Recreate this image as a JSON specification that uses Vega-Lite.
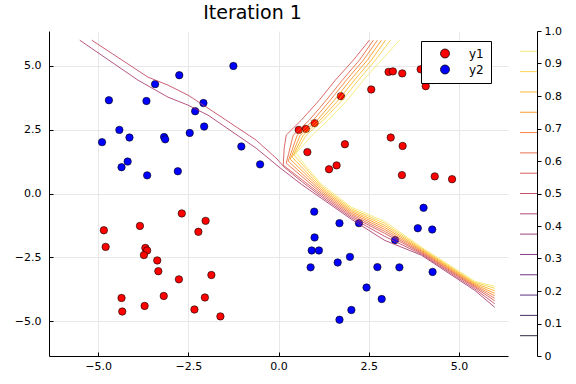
{
  "$schema": "https://vega.github.io/schema/vega-lite/v6.json",
  "padding": {"left": 14, "top": 4, "right": 5, "bottom": 5},
  "config": {
    "font": "DejaVu Sans",
    "view": {"stroke": null},
    "concat": {"spacing": 11},
    "axis": {
      "domainColor": "black", "domainWidth": 1,
      "tickColor": "black", "tickWidth": 1,
      "labelColor": "black", "labelFontSize": 11,
      "gridColor": "#e8e8e8", "gridWidth": 1,
      "titleColor": "black"
    }
  },
  "datasets": {
    "pts": [
      {"s": "y2", "x": -1.25, "y": 4.99}, {"s": "y2", "x": -2.75, "y": 4.63}, {"s": "y2", "x": -3.42, "y": 4.28},
      {"s": "y2", "x": -4.70, "y": 3.65}, {"s": "y2", "x": -3.66, "y": 3.62}, {"s": "y2", "x": -2.08, "y": 3.54},
      {"s": "y2", "x": -2.31, "y": 3.22}, {"s": "y2", "x": -4.41, "y": 2.49}, {"s": "y2", "x": -2.06, "y": 2.62},
      {"s": "y2", "x": -4.89, "y": 2.01}, {"s": "y2", "x": -4.13, "y": 2.19}, {"s": "y2", "x": -3.17, "y": 2.21},
      {"s": "y2", "x": -3.14, "y": 2.12}, {"s": "y2", "x": -2.46, "y": 2.37}, {"s": "y2", "x": -1.03, "y": 1.84},
      {"s": "y2", "x": -4.18, "y": 1.25}, {"s": "y2", "x": -4.35, "y": 1.03}, {"s": "y2", "x": -3.64, "y": 0.71},
      {"s": "y2", "x": -2.79, "y": 0.87}, {"s": "y2", "x": -0.51, "y": 1.14},
      {"s": "y2", "x": 0.99, "y": -0.71}, {"s": "y2", "x": 1.69, "y": -1.16}, {"s": "y2", "x": 2.23, "y": -1.16},
      {"s": "y2", "x": 4.02, "y": -0.56}, {"s": "y2", "x": 3.86, "y": -1.36}, {"s": "y2", "x": 4.26, "y": -1.41},
      {"s": "y2", "x": 1.00, "y": -1.72}, {"s": "y2", "x": 3.23, "y": -1.82}, {"s": "y2", "x": 0.92, "y": -2.23},
      {"s": "y2", "x": 1.12, "y": -2.23}, {"s": "y2", "x": 1.98, "y": -2.48}, {"s": "y2", "x": 1.64, "y": -2.70},
      {"s": "y2", "x": 0.89, "y": -2.89}, {"s": "y2", "x": 2.74, "y": -2.88}, {"s": "y2", "x": 3.35, "y": -2.89},
      {"s": "y2", "x": 4.27, "y": -3.07}, {"s": "y2", "x": 2.44, "y": -3.68}, {"s": "y2", "x": 2.86, "y": -4.13},
      {"s": "y2", "x": 2.02, "y": -4.56}, {"s": "y2", "x": 1.69, "y": -4.94},
      {"s": "y1", "x": -2.68, "y": -0.78}, {"s": "y1", "x": -2.02, "y": -1.07}, {"s": "y1", "x": -4.84, "y": -1.44},
      {"s": "y1", "x": -3.84, "y": -1.27}, {"s": "y1", "x": -2.22, "y": -1.50}, {"s": "y1", "x": -4.79, "y": -2.09},
      {"s": "y1", "x": -3.69, "y": -2.13}, {"s": "y1", "x": -3.64, "y": -2.23}, {"s": "y1", "x": -3.73, "y": -2.41},
      {"s": "y1", "x": -3.36, "y": -2.62}, {"s": "y1", "x": -3.33, "y": -3.04}, {"s": "y1", "x": -2.76, "y": -3.36},
      {"s": "y1", "x": -1.86, "y": -3.19}, {"s": "y1", "x": -4.35, "y": -4.09}, {"s": "y1", "x": -3.18, "y": -4.01},
      {"s": "y1", "x": -2.04, "y": -4.07}, {"s": "y1", "x": -3.71, "y": -4.40}, {"s": "y1", "x": -4.33, "y": -4.62},
      {"s": "y1", "x": -2.33, "y": -4.54}, {"s": "y1", "x": -1.61, "y": -4.81},
      {"s": "y1", "x": 3.05, "y": 4.76}, {"s": "y1", "x": 3.17, "y": 4.78}, {"s": "y1", "x": 3.43, "y": 4.70},
      {"s": "y1", "x": 3.94, "y": 4.86}, {"s": "y1", "x": 4.30, "y": 4.44}, {"s": "y1", "x": 4.08, "y": 4.20},
      {"s": "y1", "x": 2.57, "y": 4.07}, {"s": "y1", "x": 1.73, "y": 3.81}, {"s": "y1", "x": 1.00, "y": 2.75},
      {"s": "y1", "x": 0.76, "y": 2.53}, {"s": "y1", "x": 0.56, "y": 2.49}, {"s": "y1", "x": 3.11, "y": 2.19},
      {"s": "y1", "x": 3.44, "y": 1.86}, {"s": "y1", "x": 1.84, "y": 1.93}, {"s": "y1", "x": 0.80, "y": 1.62},
      {"s": "y1", "x": 1.61, "y": 1.10}, {"s": "y1", "x": 1.40, "y": 0.95}, {"s": "y1", "x": 3.42, "y": 0.72},
      {"s": "y1", "x": 4.33, "y": 0.67}, {"s": "y1", "x": 4.81, "y": 0.56}
    ],
    "cont": [
      {"lv": 0.4375, "o": 1, "x": -5.508, "y": 6.0}, {"lv": 0.4375, "o": 2, "x": -3.897, "y": 4.438},
      {"lv": 0.4375, "o": 3, "x": -3.064, "y": 3.772}, {"lv": 0.4375, "o": 4, "x": -2.508, "y": 3.459},
      {"lv": 0.4375, "o": 5, "x": -1.953, "y": 3.067}, {"lv": 0.4375, "o": 6, "x": -0.619, "y": 1.774},
      {"lv": 0.4375, "o": 7, "x": 0.019, "y": 1.030}, {"lv": 0.4375, "o": 8, "x": 0.631, "y": 0.364},
      {"lv": 0.4375, "o": 9, "x": 1.186, "y": -0.184}, {"lv": 0.4375, "o": 10, "x": 2.019, "y": -1.007},
      {"lv": 0.4375, "o": 11, "x": 2.936, "y": -1.829}, {"lv": 0.4375, "o": 12, "x": 3.964, "y": -2.417},
      {"lv": 0.4375, "o": 13, "x": 5.436, "y": -3.788}, {"lv": 0.4375, "o": 14, "x": 5.992, "y": -4.454},

      {"lv": 0.5, "o": 1, "x": -5.175, "y": 6.0}, {"lv": 0.5, "o": 2, "x": -3.619, "y": 4.555},
      {"lv": 0.5, "o": 3, "x": -3.064, "y": 4.242}, {"lv": 0.5, "o": 4, "x": -2.508, "y": 3.850},
      {"lv": 0.5, "o": 5, "x": -1.953, "y": 3.341}, {"lv": 0.5, "o": 6, "x": -0.619, "y": 2.088},
      {"lv": 0.5, "o": 7, "x": -0.036, "y": 1.344}, {"lv": 0.5, "o": 8, "x": 0.158, "y": 1.030},
      {"lv": 0.5, "o": 9, "x": 0.631, "y": 0.482}, {"lv": 0.5, "o": 10, "x": 1.186, "y": -0.116},
      {"lv": 0.5, "o": 11, "x": 2.019, "y": -0.948}, {"lv": 0.5, "o": 12, "x": 2.936, "y": -1.673},
      {"lv": 0.5, "o": 13, "x": 3.964, "y": -2.378}, {"lv": 0.5, "o": 14, "x": 5.436, "y": -3.729},
      {"lv": 0.5, "o": 15, "x": 5.992, "y": -4.316},

      {"lv": 0.5625, "o": 1, "x": 2.519, "y": 6.0}, {"lv": 0.5625, "o": 2, "x": 2.075, "y": 5.221},
      {"lv": 0.5625, "o": 3, "x": 1.575, "y": 4.438}, {"lv": 0.5625, "o": 4, "x": 1.131, "y": 3.655},
      {"lv": 0.5625, "o": 5, "x": 0.631, "y": 2.871}, {"lv": 0.5625, "o": 6, "x": 0.214, "y": 2.284},
      {"lv": 0.5625, "o": 7, "x": 0.158, "y": 1.774}, {"lv": 0.5625, "o": 8, "x": 0.131, "y": 1.109},
      {"lv": 0.5625, "o": 9, "x": 1.186, "y": -0.047}, {"lv": 0.5625, "o": 10, "x": 2.019, "y": -0.889},
      {"lv": 0.5625, "o": 11, "x": 2.936, "y": -1.555}, {"lv": 0.5625, "o": 12, "x": 3.964, "y": -2.338},
      {"lv": 0.5625, "o": 13, "x": 5.436, "y": -3.671}, {"lv": 0.5625, "o": 14, "x": 5.992, "y": -4.199},

      {"lv": 0.625, "o": 1, "x": 2.631, "y": 6.0}, {"lv": 0.625, "o": 2, "x": 2.242, "y": 5.221},
      {"lv": 0.625, "o": 3, "x": 1.769, "y": 4.438}, {"lv": 0.625, "o": 4, "x": 1.325, "y": 3.655},
      {"lv": 0.625, "o": 5, "x": 0.853, "y": 2.871}, {"lv": 0.625, "o": 6, "x": 0.408, "y": 2.284},
      {"lv": 0.625, "o": 7, "x": 0.214, "y": 1.187}, {"lv": 0.625, "o": 8, "x": 1.186, "y": 0.022},
      {"lv": 0.625, "o": 9, "x": 2.019, "y": -0.830}, {"lv": 0.625, "o": 10, "x": 2.936, "y": -1.477},
      {"lv": 0.625, "o": 11, "x": 3.964, "y": -2.299}, {"lv": 0.625, "o": 12, "x": 5.436, "y": -3.631},
      {"lv": 0.625, "o": 13, "x": 5.992, "y": -4.101},

      {"lv": 0.6875, "o": 1, "x": 2.742, "y": 6.0}, {"lv": 0.6875, "o": 2, "x": 2.353, "y": 5.221},
      {"lv": 0.6875, "o": 3, "x": 1.881, "y": 4.438}, {"lv": 0.6875, "o": 4, "x": 1.436, "y": 3.655},
      {"lv": 0.6875, "o": 5, "x": 0.964, "y": 2.871}, {"lv": 0.6875, "o": 6, "x": 0.519, "y": 2.284},
      {"lv": 0.6875, "o": 7, "x": 0.269, "y": 1.265}, {"lv": 0.6875, "o": 8, "x": 1.186, "y": 0.090},
      {"lv": 0.6875, "o": 9, "x": 2.019, "y": -0.772}, {"lv": 0.6875, "o": 10, "x": 2.936, "y": -1.398},
      {"lv": 0.6875, "o": 11, "x": 3.964, "y": -2.260}, {"lv": 0.6875, "o": 12, "x": 5.436, "y": -3.592},
      {"lv": 0.6875, "o": 13, "x": 5.992, "y": -4.003},

      {"lv": 0.75, "o": 1, "x": 2.853, "y": 6.0}, {"lv": 0.75, "o": 2, "x": 2.464, "y": 5.221},
      {"lv": 0.75, "o": 3, "x": 1.992, "y": 4.438}, {"lv": 0.75, "o": 4, "x": 1.547, "y": 3.655},
      {"lv": 0.75, "o": 5, "x": 1.075, "y": 2.871}, {"lv": 0.75, "o": 6, "x": 0.603, "y": 2.284},
      {"lv": 0.75, "o": 7, "x": 0.325, "y": 1.344}, {"lv": 0.75, "o": 8, "x": 1.186, "y": 0.159},
      {"lv": 0.75, "o": 9, "x": 2.019, "y": -0.713}, {"lv": 0.75, "o": 10, "x": 2.936, "y": -1.320},
      {"lv": 0.75, "o": 11, "x": 3.964, "y": -2.221}, {"lv": 0.75, "o": 12, "x": 5.436, "y": -3.553},
      {"lv": 0.75, "o": 13, "x": 5.992, "y": -3.905},

      {"lv": 0.8125, "o": 1, "x": 2.964, "y": 6.0}, {"lv": 0.8125, "o": 2, "x": 2.575, "y": 5.221},
      {"lv": 0.8125, "o": 3, "x": 2.103, "y": 4.438}, {"lv": 0.8125, "o": 4, "x": 1.658, "y": 3.655},
      {"lv": 0.8125, "o": 5, "x": 1.158, "y": 2.871}, {"lv": 0.8125, "o": 6, "x": 0.686, "y": 2.284},
      {"lv": 0.8125, "o": 7, "x": 0.381, "y": 1.422}, {"lv": 0.8125, "o": 8, "x": 1.186, "y": 0.227},
      {"lv": 0.8125, "o": 9, "x": 2.019, "y": -0.654}, {"lv": 0.8125, "o": 10, "x": 2.936, "y": -1.242},
      {"lv": 0.8125, "o": 11, "x": 3.964, "y": -2.182}, {"lv": 0.8125, "o": 12, "x": 5.436, "y": -3.514},
      {"lv": 0.8125, "o": 13, "x": 5.992, "y": -3.807},

      {"lv": 0.875, "o": 1, "x": 3.103, "y": 6.0}, {"lv": 0.875, "o": 2, "x": 2.686, "y": 5.221},
      {"lv": 0.875, "o": 3, "x": 2.214, "y": 4.438}, {"lv": 0.875, "o": 4, "x": 1.769, "y": 3.655},
      {"lv": 0.875, "o": 5, "x": 1.242, "y": 2.871}, {"lv": 0.875, "o": 6, "x": 0.769, "y": 2.284},
      {"lv": 0.875, "o": 7, "x": 0.436, "y": 1.500}, {"lv": 0.875, "o": 8, "x": 1.186, "y": 0.296},
      {"lv": 0.875, "o": 9, "x": 2.019, "y": -0.595}, {"lv": 0.875, "o": 10, "x": 2.936, "y": -1.163},
      {"lv": 0.875, "o": 11, "x": 3.964, "y": -2.143}, {"lv": 0.875, "o": 12, "x": 5.436, "y": -3.474},
      {"lv": 0.875, "o": 13, "x": 5.992, "y": -3.709},

      {"lv": 0.9375, "o": 1, "x": 3.353, "y": 6.0}, {"lv": 0.9375, "o": 2, "x": 2.853, "y": 5.221},
      {"lv": 0.9375, "o": 3, "x": 2.353, "y": 4.438}, {"lv": 0.9375, "o": 4, "x": 1.908, "y": 3.655},
      {"lv": 0.9375, "o": 5, "x": 1.381, "y": 2.871}, {"lv": 0.9375, "o": 6, "x": 0.936, "y": 2.284},
      {"lv": 0.9375, "o": 7, "x": 0.492, "y": 1.579}, {"lv": 0.9375, "o": 8, "x": 0.714, "y": 1.148},
      {"lv": 0.9375, "o": 9, "x": 1.186, "y": 0.364}, {"lv": 0.9375, "o": 10, "x": 2.019, "y": -0.537},
      {"lv": 0.9375, "o": 11, "x": 2.936, "y": -1.085}, {"lv": 0.9375, "o": 12, "x": 3.964, "y": -2.103},
      {"lv": 0.9375, "o": 13, "x": 5.436, "y": -3.435}, {"lv": 0.9375, "o": 14, "x": 5.992, "y": -3.631}
    ],
    "levels": [
      {"lv": 0.0625}, {"lv": 0.125}, {"lv": 0.1875}, {"lv": 0.25}, {"lv": 0.3125},
      {"lv": 0.375}, {"lv": 0.4375}, {"lv": 0.5}, {"lv": 0.5625}, {"lv": 0.625},
      {"lv": 0.6875}, {"lv": 0.75}, {"lv": 0.8125}, {"lv": 0.875}, {"lv": 0.9375}
    ]
  },
  "hconcat": [
    {
      "width": 459,
      "height": 325,
      "title": {"text": "Iteration 1", "fontSize": 19, "fontWeight": "normal", "anchor": "middle", "dx": -26, "offset": 8, "color": "black"},
      "layer": [
        {
          "data": {"name": "pts"},
          "mark": {"type": "circle", "size": 55, "opacity": 1, "stroke": "black", "strokeWidth": 0.6},
          "encoding": {
            "x": {"field": "x", "type": "quantitative", "scale": {"domain": [-6.36, 6.36], "nice": false, "zero": false},
                  "axis": {"title": null, "values": [-5, -2.5, 0, 2.5, 5], "format": ".1f", "tickSize": -4, "labelPadding": 8}},
            "y": {"field": "y", "type": "quantitative", "scale": {"domain": [-6.36, 6.36], "nice": false, "zero": false},
                  "axis": {"title": null, "values": [-5, -2.5, 0, 2.5, 5], "format": ".1f", "tickSize": -4, "labelPadding": 12}},
            "fill": {"field": "s", "type": "nominal", "scale": {"domain": ["y1", "y2"], "range": ["#ff0000", "#0000ff"]},
                     "legend": {"orient": "none", "legendX": 372, "legendY": 10, "title": null, "strokeColor": "black", "fillColor": "white",
                                "padding": 6.5, "symbolOffset": 11.5, "labelOffset": 18, "symbolSize": 80, "symbolType": "circle",
                                "symbolStrokeColor": "black", "symbolStrokeWidth": 0.8, "symbolOpacity": 1,
                                "labelFontSize": 12, "labelColor": "black", "rowPadding": 2, "cornerRadius": 0}}
          }
        },
        {
          "data": {"name": "cont"},
          "mark": {"type": "line", "strokeWidth": 1, "strokeOpacity": 0.8},
          "encoding": {
            "x": {"field": "x", "type": "quantitative"},
            "y": {"field": "y", "type": "quantitative"},
            "stroke": {"field": "lv", "type": "quantitative", "scale": {"scheme": "inferno", "domain": [0, 1]}, "legend": null},
            "detail": {"field": "lv", "type": "quantitative"},
            "order": {"field": "o", "type": "quantitative"}
          }
        }
      ]
    },
    {
      "width": 17,
      "height": 325,
      "data": {"name": "levels"},
      "mark": {"type": "rule", "strokeWidth": 1, "strokeOpacity": 0.85},
      "encoding": {
        "y": {"field": "lv", "type": "quantitative", "scale": {"domain": [0, 1], "nice": false, "zero": false},
              "axis": {"orient": "right", "title": null, "grid": false, "values": [0, 0.1, 0.2, 0.3, 0.4, 0.5, 0.6, 0.7, 0.8, 0.9, 1],
                       "labelExpr": "datum.value == 0 ? '0' : format(datum.value, '.1f')", "tickSize": 4, "labelPadding": 3}},
        "stroke": {"field": "lv", "type": "quantitative", "scale": {"scheme": "inferno", "domain": [0, 1]}, "legend": null}
      }
    }
  ]
}
